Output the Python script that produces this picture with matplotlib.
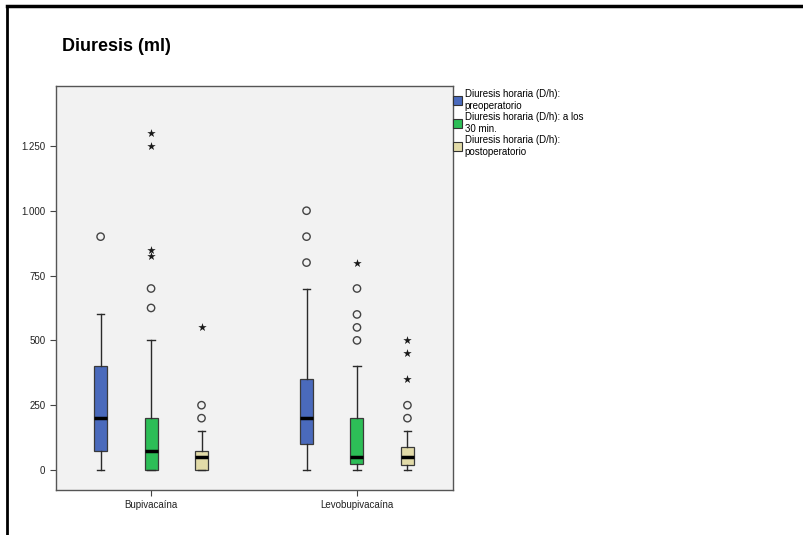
import numpy as np
import matplotlib.pyplot as plt
from matplotlib.patches import Patch
from matplotlib.lines import Line2D

plt.rcParams['font.family'] = ['Liberation Sans', 'DejaVu Sans']

groups = ['Bupivacaína', 'Levobupivacaína']
series = ['Diuresis horaria (D/h):\npreoperatorio',
          'Diuresis horaria (D/h): a los\n30 min.',
          'Diuresis horaria (D/h):\npostoperatorio']
colors = ['#4a6abc', '#2dbe57', '#e2dba8']

# box stats: [whislo, q1, med, q3, whishi]
bupi_stats = [
    [0, 75, 200, 400, 600],
    [0, 0, 75, 200, 500],
    [0, 0, 50, 75, 150],
]
levo_stats = [
    [0, 100, 200, 350, 700],
    [0, 25, 50, 200, 400],
    [0, 20, 50, 90, 150],
]

# outliers: circles (mild) and stars (extreme)
bupi_circles = [[900], [625, 700], [200, 250]]
bupi_stars = [[], [825, 850, 1250, 1300], [550]]
levo_circles = [[800, 900, 1000], [500, 550, 600, 700], [200, 250]]
levo_stars = [[], [800], [350, 450, 500]]

yticks = [0, 250, 500, 750, 1000, 1250]
ytick_labels = ['0', '250', '500', '750', '1.000', '1.250']

fig = plt.figure(figsize=(8.04, 5.35), dpi=100)
ax = fig.add_axes([0.0693, 0.0841, 0.4938, 0.7552])
ax.set_facecolor('#f2f2f2')

offsets = [-0.245, 0, 0.245]
all_stats = [bupi_stats, levo_stats]
all_circles = [bupi_circles, levo_circles]
all_stars = [bupi_stars, levo_stars]

for g in range(len(groups)):
    for s in range(len(series)):
        lo, q1, med, q3, hi = all_stats[g][s]
        st = dict(whislo=lo, q1=q1, med=med, q3=q3, whishi=hi, fliers=[])
        pos = g + offsets[s]
        ax.bxp([st], positions=[pos], widths=0.063, capwidths=0.035,
               patch_artist=True, showfliers=False,
               boxprops=dict(facecolor=colors[s], edgecolor='#3a3a3a', linewidth=0.9),
               medianprops=dict(color='black', linewidth=2.5),
               whiskerprops=dict(color='#2a2a2a', linewidth=1),
               capprops=dict(color='#2a2a2a', linewidth=1))
        c = all_circles[g][s]
        if c:
            ax.scatter([pos] * len(c), c, s=28, marker='o', facecolors='none',
                       edgecolors='#444444', linewidths=1, zorder=3)
        st_ = all_stars[g][s]
        if st_:
            ax.scatter([pos] * len(st_), st_, s=40, marker='*', color='#1a1a1a',
                       linewidths=0, zorder=3)

ax.set_xlim(-0.463, 1.465)
ax.set_ylim(-77, 1481)
ax.set_xticks(range(len(groups)))
ax.set_xticklabels(groups, fontsize=7, color='#222222')
ax.set_yticks(yticks)
ax.set_yticklabels(ytick_labels, fontsize=7, color='#222222')
ax.tick_params(length=4, width=0.8, color='#444444')
for sp in ax.spines.values():
    sp.set_color('#555555')
    sp.set_linewidth(1)

handles = [Patch(facecolor=colors[i], edgecolor='#333333', linewidth=0.8)
           for i in range(len(series))]
fig.legend(handles, series, loc='upper left', bbox_to_anchor=(0.5634, 0.8336),
           frameon=False, fontsize=7, handlelength=0.95, handleheight=1.05,
           handletextpad=0.25, labelspacing=0.15, borderaxespad=0, borderpad=0)

fig.text(0.077, 0.913, 'Diuresis (ml)', fontsize=13, fontweight='bold',
         va='center', ha='left')

# outer frame lines (top and left)
fig.add_artist(Line2D([0.0087, 1.0], [0.9897, 0.9897], color='black', linewidth=2.5))
fig.add_artist(Line2D([0.0093, 0.0093], [0.0, 0.9897], color='black', linewidth=2))

fig.savefig('out.png', dpi=100)
